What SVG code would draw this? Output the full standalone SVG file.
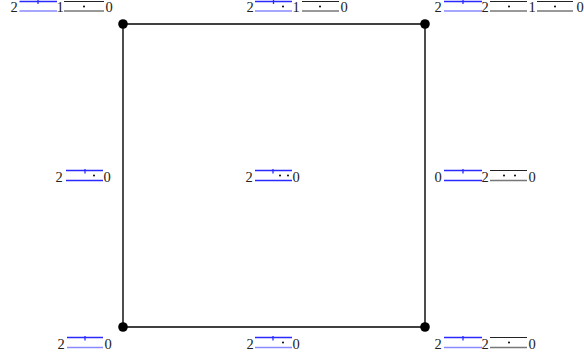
<svg xmlns="http://www.w3.org/2000/svg" width="584" height="362" viewBox="0 0 584 362">
<style>
text{font-family:"Liberation Serif","Times New Roman",serif;font-size:14.5px;fill:#222;text-anchor:middle}
.bt{stroke:#2a2aff;stroke-width:1.3;fill:none}
.bb{stroke:#2a2aff;stroke-width:1.3;fill:none}
.bl{stroke:#8a8aff;stroke-width:1.7;fill:none}
.kt{stroke:#222;stroke-width:1;fill:none}
.kb{stroke:#777;stroke-width:1.7;fill:none}
.edge{stroke:#000;stroke-width:1.4;fill:none}
.dot{fill:#000}
</style>
<g id="connectors">
<line class="edge" x1="123" y1="24" x2="425" y2="24"/>
<line class="edge" x1="425" y1="24" x2="425" y2="327"/>
<line class="edge" x1="425" y1="327" x2="123" y2="327"/>
<line class="edge" x1="123" y1="327" x2="123" y2="24"/>
</g>
<g id="v-tl"><circle class="dot" cx="123" cy="24" r="4.8"/></g>
<g id="v-tr"><circle class="dot" cx="425" cy="24" r="4.8"/></g>
<g id="v-bl"><circle class="dot" cx="123" cy="327" r="4.8"/></g>
<g id="v-br"><circle class="dot" cx="425" cy="327" r="4.8"/></g>

<g id="label-tl">
<text x="14" y="12">2</text>
<line class="bt" x1="19.5" y1="1.5" x2="57" y2="1.5"/><line class="bt" x1="38" y1="0" x2="38" y2="4"/>
<line class="bl" x1="19.5" y1="11" x2="57" y2="11"/>
<text x="60" y="12">1</text>
<line class="kt" x1="64" y1="1.5" x2="104" y2="1.5"/><circle class="dot" cx="84" cy="6.5" r="1"/>
<line class="kb" x1="64" y1="11" x2="104" y2="11"/>
<text x="109" y="12">0</text>
</g>

<g id="label-tm">
<text x="250" y="12">2</text>
<line class="bt" x1="255" y1="1.5" x2="292" y2="1.5"/><line class="bt" x1="273.5" y1="0" x2="273.5" y2="4"/>
<circle class="dot" cx="283" cy="6.5" r="1"/>
<line class="bl" x1="255" y1="11" x2="292" y2="11"/>
<text x="296" y="12">1</text>
<line class="kt" x1="302" y1="1.5" x2="339" y2="1.5"/><circle class="dot" cx="320" cy="6.5" r="1"/>
<line class="kb" x1="302" y1="11" x2="339" y2="11"/>
<text x="344" y="12">0</text>
</g>

<g id="label-tr">
<text x="438" y="12">2</text>
<line class="bt" x1="444" y1="1.5" x2="482" y2="1.5"/><line class="bt" x1="463" y1="0" x2="463" y2="4"/>
<line class="bl" x1="444" y1="11" x2="482" y2="11"/>
<text x="485" y="12">2</text>
<line class="kt" x1="490" y1="1.5" x2="527" y2="1.5"/><circle class="dot" cx="509" cy="6.5" r="1"/>
<line class="kb" x1="490" y1="11" x2="527" y2="11"/>
<text x="532" y="12">1</text>
<line class="kt" x1="537" y1="1.5" x2="573" y2="1.5"/><circle class="dot" cx="555" cy="6.5" r="1"/>
<line class="kb" x1="537" y1="11" x2="573" y2="11"/>
<text x="580" y="12">0</text>
</g>

<g id="label-lm">
<text x="59" y="182">2</text>
<line class="bt" x1="66" y1="170.5" x2="103" y2="170.5"/><line class="bt" x1="85" y1="169" x2="85" y2="173.5"/>
<circle class="dot" cx="94" cy="175.5" r="1"/>
<line class="bb" x1="66" y1="180.5" x2="103" y2="180.5"/>
<text x="107" y="182">0</text>
</g>

<g id="label-c">
<text x="249" y="182">2</text>
<line class="bt" x1="255" y1="170.5" x2="292" y2="170.5"/><line class="bt" x1="273" y1="169" x2="273" y2="173.5"/>
<circle class="dot" cx="280" cy="175.5" r="1"/><circle class="dot" cx="288" cy="175.5" r="1"/>
<line class="bb" x1="255" y1="180.5" x2="292" y2="180.5"/>
<text x="296" y="182">0</text>
</g>

<g id="label-rm">
<text x="438" y="182">0</text>
<line class="bt" x1="444" y1="170.5" x2="482" y2="170.5"/><line class="bt" x1="463" y1="169" x2="463" y2="173.5"/>
<line class="bb" x1="444" y1="180.5" x2="482" y2="180.5"/>
<text x="485" y="182">2</text>
<line class="kt" x1="490" y1="170.5" x2="527" y2="170.5"/>
<circle class="dot" cx="504" cy="175.5" r="1"/><circle class="dot" cx="515" cy="175.5" r="1"/>
<line class="kb" x1="490" y1="180.5" x2="527" y2="180.5"/>
<text x="532" y="182">0</text>
</g>

<g id="label-bl">
<text x="61" y="349">2</text>
<line class="bt" x1="67" y1="337.5" x2="103" y2="337.5"/><line class="bt" x1="85" y1="336" x2="85" y2="340.5"/>
<line class="bl" x1="67" y1="347.5" x2="103" y2="347.5"/>
<text x="108" y="349">0</text>
</g>

<g id="label-bm">
<text x="250" y="349">2</text>
<line class="bt" x1="255" y1="337.5" x2="292" y2="337.5"/><line class="bt" x1="273" y1="336" x2="273" y2="340.5"/>
<circle class="dot" cx="283" cy="342.5" r="1"/>
<line class="bl" x1="255" y1="347.5" x2="292" y2="347.5"/>
<text x="296" y="349">0</text>
</g>

<g id="label-br">
<text x="438" y="349">2</text>
<line class="bt" x1="444" y1="337.5" x2="482" y2="337.5"/><line class="bt" x1="463" y1="336" x2="463" y2="340.5"/>
<line class="bl" x1="444" y1="347.5" x2="482" y2="347.5"/>
<text x="485" y="349">2</text>
<line class="kt" x1="490" y1="337.5" x2="527" y2="337.5"/><circle class="dot" cx="509" cy="342.5" r="1"/>
<line class="kb" x1="490" y1="347.5" x2="527" y2="347.5"/>
<text x="532" y="349">0</text>
</g>
</svg>
